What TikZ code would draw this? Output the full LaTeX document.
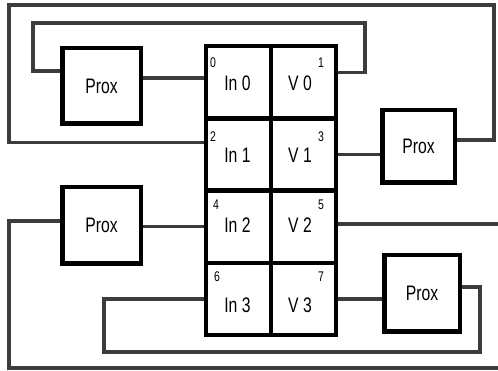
\documentclass[tikz,border=0pt]{standalone}
\usepackage{fontspec}
\setmainfont{Liberation Sans}[FakeStretch=0.75]
\usetikzlibrary{calc}
\definecolor{wiregray}{HTML}{3C3C3C}

\begin{document}
\begin{tikzpicture}[x=1pt,y=-1pt] %% tikz, pixel units from top left
	\tikzstyle{box}=[draw,line width=4.5pt,inner sep=0pt,font=\fontsize{21}{25}\selectfont];
	\tikzstyle{cell}=[draw,line width=4.5pt,minimum width=65pt,minimum height=72.2pt,inner sep=0pt];
	\tikzstyle{wire}=[draw=wiregray,line width=3.5pt];
	\tikzstyle{num}=[font=\fontsize{14}{16}\selectfont,inner sep=0pt];
	\tikzstyle{txt}=[font=\fontsize{21}{25}\selectfont,inner sep=0pt];
	\useasboundingbox (0,0) rectangle (498,371);
	%% the block of eight cells
	\foreach \r/\yy in {0/82.35,1/154.55,2/226.75,3/298.95} {
		\node[cell] (in\r) at (238.5,\yy) {};
		\node[cell] (v\r) at (303.5,\yy) {};
	}
	\foreach \r/\nx/\ny/\ly in {0/213/63/83.5,1/213/137/155.5,2/216/204.5/225.5,3/217/277/305.5} {
		\pgfmathtruncatemacro\numL{2*\r}
		\pgfmathtruncatemacro\numR{2*\r+1}
		\node[num] (nin\r) at (\nx,\ny) {\numL};
		\node[num] (nv\r) at (321,\ny) {\numR};
		\node[txt] (tin\r) at (237.5,\ly) {In \r};
		\node[txt] (tv\r) at (300,\ly) {V \r};
	}
	%% prox boxes
	\node[box,minimum width=78.5pt,minimum height=75.5pt] (pA) at (101.5,86) {Prox};
	\node[box,minimum width=72.5pt,minimum height=72.5pt] (pB) at (418.5,146.5) {Prox};
	\node[box,minimum width=78.5pt,minimum height=76.5pt] (pC) at (101.5,225.5) {Prox};
	\node[box,minimum width=75.5pt,minimum height=76.5pt] (pD) at (422,293.5) {Prox};
	\coordinate (edgeR) at (498,224.25);
	\coordinate (edgeB) at (498,368);
	%% wires
	\draw[wire] ([yshift=8pt]pA.east) -- ([yshift=8pt]pA.east -| in0.west);
	\draw[wire] ([yshift=10pt]v0.east) -| (365,23) -| (33,71) -- ([yshift=15pt]pA.west);
	\draw[wire] ([yshift=12pt]in1.west) -| (9,5) -| (494,140) -- ([yshift=6.5pt]pB.east);
	\draw[wire] (v1.east) -- (v1.east -| pB.west);
	\draw[wire] (in2.west) -- (in2.west -| pC.east);
	\draw[wire] ([yshift=4.5pt]pC.west) -| (9,368) -- (edgeB);
	\draw[wire] ([yshift=2.5pt]v2.east) -- (edgeR);
	\draw[wire] (in3.west) -| (104,352) -| (480,287) -- ([yshift=6.5pt]pD.east);
	\draw[wire] (v3.east) -- (v3.east -| pD.west);
\end{tikzpicture}
\end{document}
